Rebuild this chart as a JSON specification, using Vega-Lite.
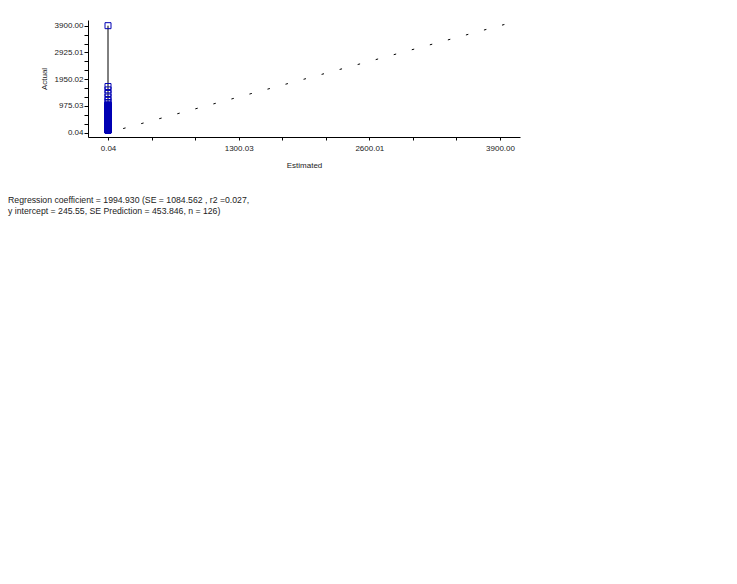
{
  "$schema": "https://vega.github.io/schema/vega-lite/v6.json",
  "width": 432,
  "height": 117,
  "autosize": "none",
  "padding": {"left": 88, "top": 20, "right": 217, "bottom": 447},
  "background": "white",
  "config": {
    "view": {"stroke": null},
    "font": "Liberation Sans",
    "axis": {
      "grid": false,
      "domainColor": "#000",
      "tickColor": "#000",
      "labelColor": "#222",
      "titleColor": "#222",
      "labelFontSize": 8,
      "titleFontSize": 8,
      "titleFontWeight": "normal",
      "labelFont": "Liberation Sans",
      "titleFont": "Liberation Sans"
    }
  },
  "title": {
    "text": ["Regression coefficient = 1994.930 (SE = 1084.562 , r2 =0.027,", "y intercept = 245.55, SE Prediction = 453.846, n = 126)"],
    "orient": "bottom",
    "anchor": "start",
    "align": "left",
    "baseline": "top",
    "dx": -32,
    "offset": 26.5,
    "fontSize": 8.7,
    "fontWeight": "normal",
    "lineHeight": 11.5,
    "color": "#222",
    "font": "Liberation Sans"
  },
  "datasets": {
    "points": [
      {"estimated": 0.04, "actual": 3900},
      {"estimated": 0.04, "actual": 1684},
      {"estimated": 0.04, "actual": 1560},
      {"estimated": 0.04, "actual": 1430},
      {"estimated": 0.04, "actual": 1300},
      {"estimated": 0.04, "actual": 1180},
      {"estimated": 0.04, "actual": 1100},
      {"estimated": 0.04, "actual": 90},
      {"estimated": 0.04, "actual": 92},
      {"estimated": 0.04, "actual": 95},
      {"estimated": 0.04, "actual": 98},
      {"estimated": 0.04, "actual": 100},
      {"estimated": 0.04, "actual": 102},
      {"estimated": 0.04, "actual": 105},
      {"estimated": 0.04, "actual": 108},
      {"estimated": 0.04, "actual": 110},
      {"estimated": 0.04, "actual": 112},
      {"estimated": 0.04, "actual": 115},
      {"estimated": 0.04, "actual": 118},
      {"estimated": 0.04, "actual": 120},
      {"estimated": 0.04, "actual": 123},
      {"estimated": 0.04, "actual": 126},
      {"estimated": 0.04, "actual": 128},
      {"estimated": 0.04, "actual": 130},
      {"estimated": 0.04, "actual": 133},
      {"estimated": 0.04, "actual": 136},
      {"estimated": 0.04, "actual": 140},
      {"estimated": 0.04, "actual": 143},
      {"estimated": 0.04, "actual": 146},
      {"estimated": 0.04, "actual": 148},
      {"estimated": 0.04, "actual": 150},
      {"estimated": 0.04, "actual": 154},
      {"estimated": 0.04, "actual": 158},
      {"estimated": 0.04, "actual": 160},
      {"estimated": 0.04, "actual": 162},
      {"estimated": 0.04, "actual": 166},
      {"estimated": 0.04, "actual": 170},
      {"estimated": 0.04, "actual": 172},
      {"estimated": 0.04, "actual": 175},
      {"estimated": 0.04, "actual": 180},
      {"estimated": 0.04, "actual": 185},
      {"estimated": 0.04, "actual": 190},
      {"estimated": 0.04, "actual": 195},
      {"estimated": 0.04, "actual": 198},
      {"estimated": 0.04, "actual": 200},
      {"estimated": 0.04, "actual": 205},
      {"estimated": 0.04, "actual": 210},
      {"estimated": 0.04, "actual": 215},
      {"estimated": 0.04, "actual": 220},
      {"estimated": 0.04, "actual": 222},
      {"estimated": 0.04, "actual": 226},
      {"estimated": 0.04, "actual": 232},
      {"estimated": 0.04, "actual": 235},
      {"estimated": 0.04, "actual": 238},
      {"estimated": 0.04, "actual": 244},
      {"estimated": 0.04, "actual": 247},
      {"estimated": 0.04, "actual": 250},
      {"estimated": 0.04, "actual": 256},
      {"estimated": 0.04, "actual": 262},
      {"estimated": 0.04, "actual": 268},
      {"estimated": 0.04, "actual": 275},
      {"estimated": 0.04, "actual": 278},
      {"estimated": 0.04, "actual": 282},
      {"estimated": 0.04, "actual": 289},
      {"estimated": 0.04, "actual": 296},
      {"estimated": 0.04, "actual": 303},
      {"estimated": 0.04, "actual": 305},
      {"estimated": 0.04, "actual": 310},
      {"estimated": 0.04, "actual": 318},
      {"estimated": 0.04, "actual": 326},
      {"estimated": 0.04, "actual": 334},
      {"estimated": 0.04, "actual": 342},
      {"estimated": 0.04, "actual": 350},
      {"estimated": 0.04, "actual": 358},
      {"estimated": 0.04, "actual": 366},
      {"estimated": 0.04, "actual": 375},
      {"estimated": 0.04, "actual": 384},
      {"estimated": 0.04, "actual": 393},
      {"estimated": 0.04, "actual": 402},
      {"estimated": 0.04, "actual": 411},
      {"estimated": 0.04, "actual": 420},
      {"estimated": 0.04, "actual": 430},
      {"estimated": 0.04, "actual": 440},
      {"estimated": 0.04, "actual": 450},
      {"estimated": 0.04, "actual": 460},
      {"estimated": 0.04, "actual": 470},
      {"estimated": 0.04, "actual": 480},
      {"estimated": 0.04, "actual": 490},
      {"estimated": 0.04, "actual": 500},
      {"estimated": 0.04, "actual": 512},
      {"estimated": 0.04, "actual": 524},
      {"estimated": 0.04, "actual": 536},
      {"estimated": 0.04, "actual": 548},
      {"estimated": 0.04, "actual": 560},
      {"estimated": 0.04, "actual": 572},
      {"estimated": 0.04, "actual": 585},
      {"estimated": 0.04, "actual": 598},
      {"estimated": 0.04, "actual": 611},
      {"estimated": 0.04, "actual": 624},
      {"estimated": 0.04, "actual": 637},
      {"estimated": 0.04, "actual": 650},
      {"estimated": 0.04, "actual": 665},
      {"estimated": 0.04, "actual": 680},
      {"estimated": 0.04, "actual": 695},
      {"estimated": 0.04, "actual": 710},
      {"estimated": 0.04, "actual": 725},
      {"estimated": 0.04, "actual": 740},
      {"estimated": 0.04, "actual": 755},
      {"estimated": 0.04, "actual": 770},
      {"estimated": 0.04, "actual": 785},
      {"estimated": 0.04, "actual": 800},
      {"estimated": 0.04, "actual": 815},
      {"estimated": 0.04, "actual": 830},
      {"estimated": 0.04, "actual": 845},
      {"estimated": 0.04, "actual": 860},
      {"estimated": 0.04, "actual": 875},
      {"estimated": 0.04, "actual": 890},
      {"estimated": 0.04, "actual": 905},
      {"estimated": 0.04, "actual": 920},
      {"estimated": 0.04, "actual": 935},
      {"estimated": 0.04, "actual": 950},
      {"estimated": 0.04, "actual": 965},
      {"estimated": 0.04, "actual": 980},
      {"estimated": 0.04, "actual": 995},
      {"estimated": 0.04, "actual": 1005},
      {"estimated": 0.04, "actual": 1012}
    ],
    "diag": [
      {"estimated": 0.04, "actual": 0.04},
      {"estimated": 4099, "actual": 4099}
    ]
  },
  "encoding": {
    "x": {
      "field": "estimated",
      "type": "quantitative",
      "scale": {"domain": [-199, 4099], "nice": false, "zero": false},
      "axis": {
        "title": "Estimated",
        "values": [0.04, 433.36, 866.69, 1300.03, 1733.35, 2166.68, 2600.01, 3033.34, 3466.67, 3900],
        "labelExpr": "indexof([0.04, 1300.03, 2600.01, 3900], datum.value) >= 0 ? format(datum.value, '.2f') : ''",
        "tickSize": 3,
        "labelPadding": 4,
        "titlePadding": 9,
        "labelOverlap": false
      }
    },
    "y": {
      "field": "actual",
      "type": "quantitative",
      "scale": {"domain": [-157, 4107], "nice": false, "zero": false},
      "axis": {
        "title": "Actual",
        "values": [0.04, 325.03, 650.03, 975.03, 1300.02, 1625.02, 1950.02, 2275.02, 2600.01, 2925.01, 3250.01, 3575, 3900],
        "labelExpr": "indexof([0.04, 975.03, 1950.02, 2925.01, 3900], datum.value) >= 0 ? format(datum.value, '.2f') : ''",
        "tickSize": 4,
        "labelPadding": 1,
        "titlePadding": 6,
        "labelOverlap": false
      }
    }
  },
  "layer": [
    {
      "data": {"name": "diag"},
      "mark": {"type": "line", "color": "#000", "strokeWidth": 1, "strokeDash": [2.5, 16.2], "strokeDashOffset": 3}
    },
    {
      "data": {"name": "points"},
      "mark": {"type": "line", "color": "#000", "strokeWidth": 1},
      "encoding": {"order": {"field": "actual", "type": "quantitative"}}
    },
    {
      "data": {"name": "points"},
      "mark": {"type": "point", "shape": "square", "size": 36, "filled": false, "strokeWidth": 1, "color": "#0000b4", "opacity": 1}
    }
  ]
}
